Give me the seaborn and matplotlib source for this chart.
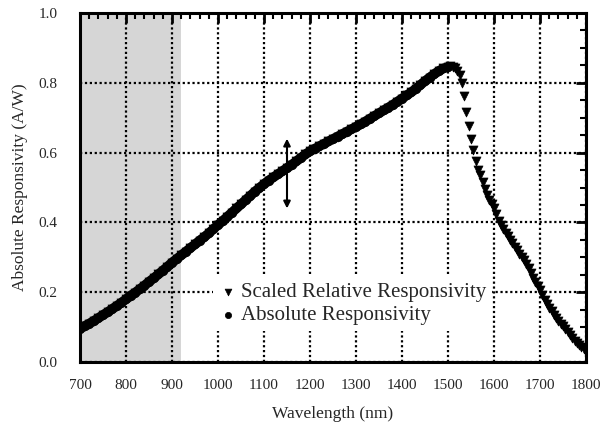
import numpy as np
import pandas as pd
import matplotlib
matplotlib.use("Agg")
import matplotlib.pyplot as plt
from matplotlib.ticker import MultipleLocator
import seaborn as sns

# ---- data ----
abs_wavelength = list(range(700, 1510, 10))
abs_resp = [0.095, 0.103, 0.110, 0.118, 0.126, 0.135, 0.143, 0.152, 0.161, 0.170,
            0.180, 0.190, 0.199, 0.209, 0.219, 0.230, 0.240, 0.251, 0.262, 0.273,
            0.285, 0.295, 0.306, 0.316, 0.327, 0.337, 0.348, 0.358, 0.369, 0.381,
            0.393, 0.404, 0.416, 0.428, 0.440, 0.452, 0.464, 0.476, 0.488, 0.499,
            0.510, 0.520, 0.529, 0.538, 0.547, 0.556, 0.565, 0.575, 0.585, 0.595,
            0.604, 0.611, 0.618, 0.625, 0.632, 0.639, 0.646, 0.653, 0.660, 0.667,
            0.674, 0.681, 0.689, 0.697, 0.705, 0.713, 0.721, 0.729, 0.737, 0.746,
            0.755, 0.764, 0.773, 0.783, 0.794, 0.805, 0.815, 0.825, 0.834, 0.841,
            0.845]

rel_tail_wavelength = list(range(1505, 1805, 5))
rel_tail_resp = [0.848, 0.846, 0.842, 0.835, 0.822, 0.800, 0.762, 0.715, 0.675, 0.640,
                 0.608, 0.575, 0.550, 0.535, 0.515, 0.495, 0.478, 0.465, 0.453, 0.442,
                 0.425, 0.405, 0.392, 0.380, 0.370, 0.360, 0.350, 0.340, 0.330, 0.320,
                 0.310, 0.300, 0.291, 0.280, 0.268, 0.255, 0.242, 0.230, 0.218, 0.205,
                 0.192, 0.178, 0.165, 0.155, 0.145, 0.136, 0.127, 0.118, 0.110, 0.102,
                 0.094, 0.085, 0.076, 0.068, 0.061, 0.055, 0.049, 0.043, 0.038, 0.035]

rel_wavelength = abs_wavelength + rel_tail_wavelength
rel_resp = abs_resp + rel_tail_resp

shade_range = (700, 920)
arrow_x = 1150
arrow_y = (0.44, 0.64)

x_ticks = list(range(700, 1900, 100))
y_ticks = [0.0, 0.2, 0.4, 0.6, 0.8, 1.0]

label_rel = "Scaled Relative Responsivity"
label_abs = "Absolute Responsivity"
# ------------------------------------

sns.set_theme(style="white")
plt.rcParams["font.family"] = ["Liberation Serif", "DejaVu Serif"]
plt.rcParams["axes.unicode_minus"] = False

df_rel = pd.DataFrame({"wl": rel_wavelength, "r": rel_resp})
df_abs = pd.DataFrame({"wl": abs_wavelength, "r": abs_resp})

fig = plt.figure(figsize=(6.0, 4.28), dpi=100)
ax = fig.add_axes([80 / 600, 1 - 362 / 428, 506 / 600, 349 / 428])

ax.axvspan(*shade_range, color="#d6d6d6", zorder=0, lw=0)

# thick band of dense points
sns.lineplot(data=df_abs, x="wl", y="r", ax=ax, color="black", lw=7,
             legend=False, zorder=3, sort=False)
sns.scatterplot(data=df_rel, x="wl", y="r", ax=ax, marker="v", s=42,
                color="black", edgecolor="black", linewidth=0.5,
                label=label_rel, zorder=4)
sns.scatterplot(data=df_abs, x="wl", y="r", ax=ax, marker="o", s=36,
                color="black", edgecolor="black", linewidth=0.5,
                label=label_abs, zorder=4)

ax.annotate("", xy=(arrow_x, arrow_y[1]), xytext=(arrow_x, arrow_y[0]),
            arrowprops=dict(arrowstyle="<|-|>", color="black", lw=1.5,
                            mutation_scale=10, shrinkA=0, shrinkB=0), zorder=5)

ax.set_xlim(700, 1800)
ax.set_ylim(0, 1.0)
ax.set_xticks(x_ticks)
ax.set_yticks(y_ticks)
ax.set_xticklabels([str(t) for t in x_ticks])
ax.set_yticklabels([f"{t:.1f}" for t in y_ticks])
ax.xaxis.set_minor_locator(MultipleLocator(20))
ax.yaxis.set_minor_locator(MultipleLocator(0.05))
ax.tick_params(which="major", direction="in", length=7, width=2, top=True,
               right=True, labelsize=11, color="black")
ax.tick_params(which="minor", direction="in", length=4, width=1.5, top=True,
               right=True, color="black")
ax.tick_params(axis="x", pad=12)
ax.tick_params(axis="y", pad=16)

ax.grid(True, which="major", color="black", linestyle=(0, (1, 1.2)), lw=1.6)
ax.set_axisbelow(False)
for gl in ax.get_xgridlines() + ax.get_ygridlines():
    gl.set_zorder(1)

for sp in ax.spines.values():
    sp.set_linewidth(2.2)
    sp.set_color("black")
    sp.set_zorder(6)

ax.set_xlabel("Wavelength (nm)", fontsize=12.5, labelpad=10)
ax.set_ylabel("Absolute Responsivity (A/W)", fontsize=12.5, labelpad=8)

leg = ax.legend(loc="upper left", bbox_to_anchor=(0.262, 0.245), frameon=True,
                fontsize=15, handletextpad=0.15, borderpad=0.3, labelspacing=0.15,
                handlelength=0.9, borderaxespad=0, markerscale=0.75)
leg.get_frame().set_facecolor("white")
leg.get_frame().set_edgecolor("none")
leg.get_frame().set_alpha(1)
leg.set_zorder(7)

fig.savefig("out.png", dpi=100)
